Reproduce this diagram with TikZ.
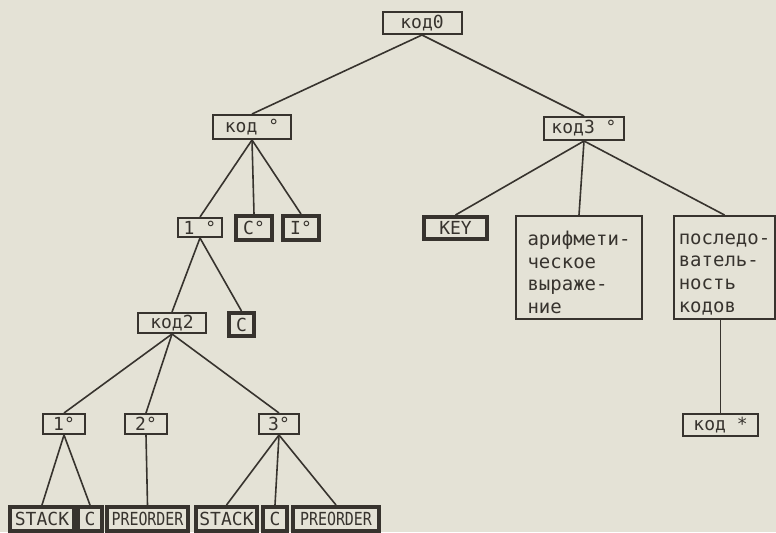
\documentclass[tikz,border=0pt]{standalone}
\usepackage{fontspec}
\usepackage{tikz}
\newfontfamily\plotfont{DejaVu Sans Mono}
\definecolor{paper}{HTML}{E4E2D6}
\definecolor{ink}{HTML}{37332E}
\newcommand{\condensed}[1]{\scalebox{0.83}[1]{#1}}

\begin{document}
\begin{tikzpicture}[
  x=0.5pt, y=-0.5pt,
  font=\plotfont\fontsize{9}{10}\selectfont,
  box/.style={draw=ink, line width=1pt, text=ink, inner sep=0pt,
    minimum height=10.5pt, align=center},
  kbox/.style={box, line width=2pt, minimum height=12pt},
  tbox/.style={box, align=left, inner xsep=2pt, minimum height=51.5pt,
    font=\plotfont\fontsize{9.5}{11.3}\selectfont},
  link/.style={draw=ink, line width=0.8pt},
]
  \fill[paper] (0,0) rectangle (776,532);
  % upper levels
  \node[box, minimum width=39.5pt, minimum height=11pt] (kod0) at (422,23) {код0};
  \node[box, minimum width=39pt, minimum height=12pt] (kodA) at (252,127) {код °};
  \node[box, minimum width=40pt, minimum height=11.5pt] (kod3) at (584,128.5) {код3 °};
  \node[box, minimum width=22pt, minimum height=9.5pt] (one) at (200,227.5) {1 °};
  \node[kbox, minimum width=18pt] (Cdeg) at (254,228) {C°};
  \node[kbox, minimum width=18pt] (Ideg) at (301,228) {I°};
  \node[kbox, minimum width=31.5pt, minimum height=11pt] (key) at (455.5,228) {KEY};
  \node[tbox, minimum width=63pt] (arith) at (579,267.5)
    {\rule{0pt}{12pt}арифмети-\\ческое\\выраже-\\ние};
  \node[tbox, minimum width=50.5pt] (seq) at (724.5,267.5)
    {\rule{0pt}{12pt}последо-\\ватель-\\ность\\кодов};
  \node[box, minimum width=34pt, minimum height=10pt] (kod2) at (172,323) {код2};
  \node[kbox, minimum width=12.5pt, minimum height=11.5pt] (C) at (241.5,324.5) {C};
  \node[box, minimum width=37.5pt, minimum height=11pt] (kodstar) at (720.5,425) {код *};
  % lower levels
  \node[box, minimum width=21pt, minimum height=10pt] (one2) at (64,424) {1°};
  \node[box, minimum width=21pt, minimum height=10pt] (two) at (146,424) {2°};
  \node[box, minimum width=20pt, minimum height=10pt] (three) at (279,424) {3°};
  \node[kbox, minimum width=32pt] (stack1) at (42,519) {STACK};
  \node[kbox, minimum width=12pt] (c1) at (90,519) {C};
  \node[kbox, minimum width=40.5pt] (pre1) at (147.5,519) {\condensed{PREORDER}};
  \node[kbox, minimum width=30.5pt] (stack2) at (226.5,519) {STACK};
  \node[kbox, minimum width=12pt] (c2) at (275,519) {C};
  \node[kbox, minimum width=43pt] (pre2) at (336,519) {\condensed{PREORDER}};

  \draw[link] (kod0.south) -- (kodA.north);
  \draw[link] (kod0.south) -- (kod3.north);
  \draw[link] (kodA.south) -- (one.north);
  \draw[link] (kodA.south) -- (Cdeg.north);
  \draw[link] (kodA.south) -- (Ideg.north);
  \draw[link] (kod3.south) -- (key.north);
  \draw[link] (kod3.south) -- (arith.north);
  \draw[link] (kod3.south) -- (seq.north);
  \draw[link] (kodstar.north |- seq.south) -- (kodstar.north);
  \draw[link] (one.south) -- (kod2.north);
  \draw[link] (one.south) -- (C.north);
  \draw[link] (kod2.south) -- (one2.north);
  \draw[link] (kod2.south) -- (two.north);
  \draw[link] (kod2.south) -- (three.north);
  \draw[link] (one2.south) -- (stack1.north);
  \draw[link] (one2.south) -- (c1.north);
  \draw[link] (two.south) -- (pre1.north);
  \draw[link] (three.south) -- (stack2.north);
  \draw[link] (three.south) -- (c2.north);
  \draw[link] (three.south) -- (pre2.north);
\end{tikzpicture}
\end{document}
